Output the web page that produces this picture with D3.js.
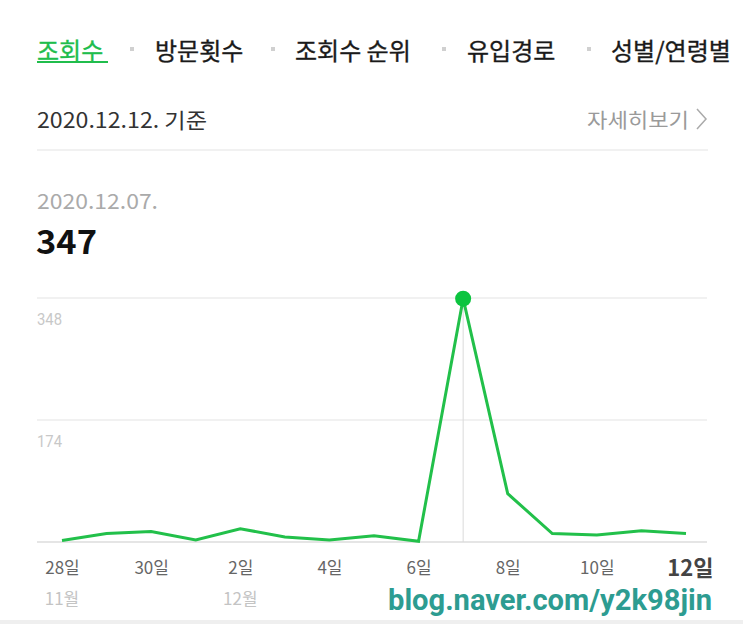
<!DOCTYPE html>
<html><head><meta charset="utf-8">
<script src="https://cdn.jsdelivr.net/npm/d3@7"></script>
<style>
html,body{margin:0;padding:0;background:#fff;}
svg{display:block;font-family:"Noto Sans CJK KR","Noto Sans",sans-serif;}
</style></head>
<body><svg id="c" width="743" height="624"></svg>
<script>
const tabs = ["조회수","방문횟수","조회수 순위","유입경로","성별/연령별"];
const days = ["28","29","30","1","2","3","4","5","6","7","8","9","10","11","12"];
const views = [2,12,15,3,19,7,3,9,1,347,69,12,10,16,12];
const dayTicks = ["28","30","2","4","6","8","10","12"];
const monthTicks = [{day:"28",label:"11월"},{day:"2",label:"12월"}];
const yTicks = [174,348];
const baseDate = "2020.12.12. 기준";
const selDate = "2020.12.07.";
const selIndex = 9;

const svg = d3.select("#c");
svg.append("rect").attr("width",743).attr("height",624).attr("fill","#fff");

// tabs
const tabX = [37,155,295,467,611];
const sepX = [132,273,444,589];
tabs.forEach((t,i)=>{
  svg.append("text").attr("x",tabX[i]).attr("y",49).attr("dominant-baseline","central")
    .attr("font-size",24).attr("fill", i===0?"#20bd4c":"#1a1a1a")
    .attr("stroke", i===0?"#20bd4c":"#1a1a1a").attr("stroke-width",0.35).text(t);
});
svg.append("rect").attr("x",37).attr("y",61).attr("width",71).attr("height",2).attr("fill","#20bd4c");
sepX.forEach(x=>svg.append("rect").attr("x",x-2).attr("y",47).attr("width",4).attr("height",4).attr("fill","#d0d0d0"));

// header row
svg.append("text").attr("x",37).attr("y",119).attr("dominant-baseline","central")
  .attr("font-size",21).attr("fill","#333").attr("textLength",170).attr("lengthAdjust","spacingAndGlyphs").text(baseDate);
svg.append("text").attr("x",587).attr("y",119).attr("dominant-baseline","central")
  .attr("font-size",20).attr("fill","#9a9a9a").attr("textLength",102).attr("lengthAdjust","spacingAndGlyphs").text("자세히보기");
svg.append("path").attr("d","M697,109 L706,119 L697,129").attr("fill","none").attr("stroke","#aaa").attr("stroke-width",1.5);
svg.append("line").attr("x1",37).attr("x2",708).attr("y1",150).attr("y2",150).attr("stroke","#ececec").attr("stroke-width",1.5);

// selected value
svg.append("text").attr("x",37).attr("y",200).attr("dominant-baseline","central")
  .attr("font-size",21).attr("fill","#aaa").attr("textLength",121).attr("lengthAdjust","spacingAndGlyphs").text(selDate);
svg.append("text").attr("x",36).attr("y",240).attr("dominant-baseline","central")
  .attr("font-size",33).attr("font-weight","bold").attr("fill","#111")
  .attr("textLength",61).attr("lengthAdjust","spacingAndGlyphs").text(views[selIndex]);

// scales
const x = d3.scalePoint().domain(days).range([62,686]);
const y = d3.scaleLinear().domain([0,348]).range([542,298]);

// gridlines
svg.selectAll(".grid").data(yTicks).join("line")
  .attr("x1",37).attr("x2",707).attr("y1",d=>y(d)).attr("y2",d=>y(d))
  .attr("stroke","#ededed").attr("stroke-width",1.5);
svg.selectAll(".ylab").data(yTicks).join("text")
  .attr("x",37).attr("y",d=>y(d)+21).attr("dominant-baseline","central")
  .attr("font-size",16).attr("fill","#c8c8c8").attr("font-family","Roboto, sans-serif")
  .attr("textLength",25).attr("lengthAdjust","spacingAndGlyphs").text(d=>d);

// baseline
svg.append("line").attr("x1",37).attr("x2",707).attr("y1",y(0)).attr("y2",y(0)).attr("stroke","#dcdcdc").attr("stroke-width",1.5);

// selected vertical
svg.append("line").attr("x1",x(days[selIndex])).attr("x2",x(days[selIndex]))
  .attr("y1",y(348)).attr("y2",y(0)).attr("stroke","#dadada").attr("stroke-width",1);

// x axis
const ax = svg.append("g").attr("transform",`translate(0,${y(0)})`)
  .call(d3.axisBottom(x).tickValues(dayTicks).tickSize(0).tickFormat(d=>d+"일"));
ax.select(".domain").remove();
ax.selectAll("text").attr("y",24).attr("dy",null).attr("dominant-baseline","central")
  .attr("font-family","'Noto Sans CJK KR',sans-serif")
  .attr("font-size",d=>d==="12"?22:17)
  .attr("font-weight",d=>d==="12"?"bold":"normal")
  .attr("fill",d=>d==="12"?"#444":"#666")
  .attr("text-anchor",d=>d==="12"?"end":"middle")
  .attr("x",d=>d==="12"?27:0);

// month labels
svg.selectAll(".mon").data(monthTicks).join("text")
  .attr("x",d=>x(d.day)).attr("y",597).attr("text-anchor","middle").attr("dominant-baseline","central")
  .attr("font-size",17).attr("fill","#c4c4c4").text(d=>d.label);

// line
const line = d3.line().x((d,i)=>x(days[i])).y(d=>y(d));
svg.append("path").datum(views).attr("d",line).attr("fill","none")
  .attr("stroke","#22c04a").attr("stroke-width",3).attr("stroke-linejoin","miter");
svg.append("circle").attr("cx",x(days[selIndex])).attr("cy",y(views[selIndex]))
  .attr("r",8).attr("fill","#0cc43f");

// watermark
svg.append("text").attr("x",388).attr("y",610)
  .attr("font-family","Roboto, sans-serif").attr("font-weight","bold").attr("font-size",29)
  .attr("fill","#2d9c91").attr("textLength",324).attr("lengthAdjust","spacingAndGlyphs")
  .text("blog.naver.com/y2k98jin");

// bottom band
svg.append("rect").attr("x",0).attr("y",620).attr("width",743).attr("height",4).attr("fill","#efefef");
</script></body></html>
